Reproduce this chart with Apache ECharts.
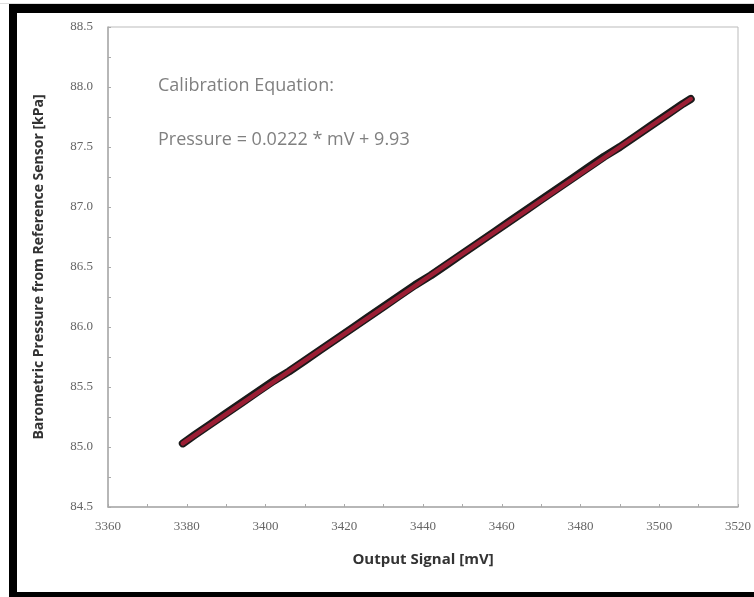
<!DOCTYPE html>
<html>
<head>
<meta charset="utf-8">
<script src="https://cdn.jsdelivr.net/npm/echarts@6/dist/echarts.min.js"></script>
<style>
html, body { margin: 0; padding: 0; background: #fff; }
#main { width: 754px; height: 597px; }
</style>
</head>
<body>
<div id="main"></div>
<script>
// measured points: output signal [mV] vs reference pressure [kPa]
var signalMv = [3379, 3382, 3386, 3390, 3394, 3398, 3402, 3406, 3410, 3414, 3418, 3422,
    3426, 3430, 3434, 3438, 3442, 3446, 3450, 3454, 3458, 3462, 3466, 3470, 3474, 3478,
    3482, 3486, 3490, 3494, 3498, 3502, 3506, 3508];
var pressureKpa = [85.03, 85.10, 85.19, 85.28, 85.37, 85.46, 85.55, 85.63, 85.72, 85.81, 85.90, 85.99,
    86.08, 86.17, 86.26, 86.35, 86.43, 86.52, 86.61, 86.70, 86.79, 86.88, 86.97, 87.06, 87.15, 87.24,
    87.33, 87.42, 87.50, 87.59, 87.68, 87.77, 87.86, 87.90];
// calibration fit line ends
var fitMv = [3379, 3508];
var fitKpa = [85.03, 87.90];
var equationLines = ['Calibration Equation:', 'Pressure = 0.0222 * mV + 9.93'];

var points = [];
for (var i = 0; i < signalMv.length; i++) {
    points.push([signalMv[i], pressureKpa[i]]);
}
var fitPoints = [[fitMv[0], fitKpa[0]], [fitMv[1], fitKpa[1]]];

var labelStyle = {
    color: '#666',
    fontSize: 13,
    fontFamily: 'Liberation Serif, serif'
};

var myChart = echarts.init(document.getElementById('main'));
var option = {
    backgroundColor: '#fff',
    animation: false,
    grid: {
        left: 108,
        right: 6,
        top: 27,
        bottom: 90,
        show: true,
        borderColor: '#bbb',
        borderWidth: 1
    },
    xAxis: {
        type: 'value',
        min: 3360,
        max: 3520,
        interval: 20,
        name: 'Output Signal [mV]',
        nameLocation: 'middle',
        nameGap: 45,
        nameTextStyle: {
            color: '#333',
            fontSize: 15,
            fontWeight: 'bold',
            fontFamily: 'Open Sans, sans-serif'
        },
        axisLine: { lineStyle: { color: '#aaa', width: 1.5 } },
        axisTick: { inside: true, length: 3, lineStyle: { color: '#aaa' } },
        minorTick: { show: true, splitNumber: 2, length: 3, lineStyle: { color: '#aaa' } },
        splitLine: { show: false },
        axisLabel: Object.assign({
            margin: 13,
            formatter: function (v) { return String(v); }
        }, labelStyle)
    },
    yAxis: {
        type: 'value',
        min: 84.5,
        max: 88.5,
        interval: 0.5,
        name: 'Barometric Pressure from Reference Sensor [kPa]',
        nameLocation: 'middle',
        nameGap: 62,
        nameTextStyle: {
            color: '#333',
            fontSize: 14,
            fontWeight: 'bold',
            fontFamily: 'Open Sans, sans-serif'
        },
        axisLine: { lineStyle: { color: '#aaa', width: 1.5 } },
        axisTick: { inside: true, length: 3, lineStyle: { color: '#aaa' } },
        minorTick: { show: true, splitNumber: 2, length: 3, lineStyle: { color: '#aaa' } },
        splitLine: { show: false },
        axisLabel: Object.assign({
            margin: 15,
            formatter: function (v) { return v.toFixed(1); }
        }, labelStyle)
    },
    graphic: [
        { type: 'rect', z: -10, silent: true, shape: { x: 9, y: 4, width: 760, height: 600 }, style: { fill: '#000' } },
        { type: 'rect', z: -9, silent: true, shape: { x: 17, y: 13, width: 760, height: 579 }, style: { fill: '#fff' } },
        { type: 'rect', z: -10, silent: true, shape: { x: 0, y: 3, width: 754, height: 1 }, style: { fill: '#ddd' } },
        {
            type: 'text', left: 158, top: 77, z: 10,
            style: { text: equationLines[0], fill: '#808080', fontSize: 18, fontFamily: 'Open Sans, sans-serif' }
        },
        {
            type: 'text', left: 158, top: 131, z: 10,
            style: { text: equationLines[1], fill: '#808080', fontSize: 18, fontFamily: 'Open Sans, sans-serif' }
        }
    ],
    series: [
        {
            name: 'measured',
            type: 'line',
            data: points,
            symbol: 'none',
            lineStyle: { color: '#1a1a1a', width: 8, cap: 'round', join: 'round' },
            z: 2
        },
        {
            name: 'fit',
            type: 'line',
            data: fitPoints,
            symbol: 'none',
            lineStyle: { color: '#b3203a', width: 4.5, opacity: 0.85, cap: 'round' },
            z: 3
        }
    ]
};
myChart.setOption(option);
</script>
</body>
</html>
